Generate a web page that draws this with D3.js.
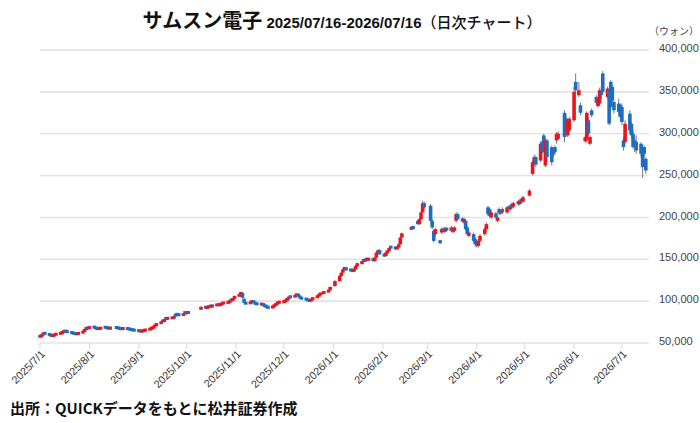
<!DOCTYPE html>
<html><head><meta charset="utf-8">
<script src="https://cdn.jsdelivr.net/npm/d3@7"></script>
<style>body{margin:0;background:#fff}svg{display:block}</style>
</head><body>
<svg id="c" width="700" height="423"></svg>
<script>
// values in thousand won, one entry per trading day (grouped by month)
const openP = [
 58.5,57.8,59.5,62.2,61,59.8,58.5,59,60,61,62,63,64.6,64,63,62,61.5,61,60.8,62,64,66.5,68.5,
 67.8,69.5,68.5,67.5,67,67.5,69,68.5,68,67.5,68.8,68.2,67.8,67.2,67,67.5,67,66.5,66,65.8,
 65,64.5,64,64.5,65,66,67,68,69.5,71,73.5,76.5,76,79.5,79,80.5,80,83.5,84.5,84,83.5,86.5,
 85.5,87,90,93.5,92,93,94.5,93.5,95,96.5,95,96.5,97.5,98,99,101.5,101,103,
 106,108.5,110,103,98,97,99,100.5,98,97.5,96,97,95,94.5,93,92,94,95,97.5,98.5,
 99,99.5,101,103.5,105.5,105,107,108.5,106,104,103,102,101,100.5,102,104.5,106,108.5,109.5,111,113,
 118,124,130,134,138,140,137.5,137,136,138,142,145,149,148,151,149,151,148,152,158,161,
 156,154,158,160.5,165,164,163,164,168,176,186,189,196,192,198,206,217,
 214,196,184,180,172,182,186,183,187,184,186,184,196,204,198,194,196,188,178,180,174,
 172,166,172,180,186,212,210,200,205,196,210,205,210,206,212,210,216,213,219,216,222,219,
 226,252,264,272,268,290,298,262,292,284,282,284,292,294,325,318,298,304,
 316,362,346,334,291,293,316,288,328,344,333,336,350,372,344,352,362,356,338,336,334,
 332,292,290,324,312,300,292,290,288,284,284,270
];
const highP = [
 59,60,62.5,62.7,61.5,60.3,59.5,60.5,61.5,62.5,63.5,65,65,64.5,63.5,62.5,62,61.5,62.5,64.5,66.5,68.5,69,
 69.5,70,69,68,68,68.5,69.5,69,68.5,68.5,69.3,68.7,68.3,67.7,68,68,67.5,67,66.5,66.3,
 65.5,65,65,65.5,66.5,67.5,68.5,70,71.5,73.5,75.5,77,78,80,80.5,81,81.5,84,85,84.5,85,87,
 87,87.5,93.5,94,93.5,94.5,95,95.5,96.5,97,97,97.5,98.5,99.5,100.5,102,103.5,106.5,
 108.5,111,110.5,103.5,98.5,99.5,100.5,101,98.5,98,97.5,97.5,95.5,95,93.5,94.5,95.5,97.5,98.5,99.5,
 100,101.5,103.5,104.5,106,107.5,108.5,109,106.5,104.5,103.5,102.5,101.5,102.5,104.5,106.5,108.5,109.5,111.5,113.5,117.5,
 125,131,135,139,141,141,139,138,139,143,146,148,150,151,152,152,152,153,159,162,162,
 157,159,161,164,166,165,165,169,177,182,189,190,197,199,207,220,219,
 216,198,186,188,173,188,188,189,188,190,188,190,206,206,200,200,198,190,184,182,176,
 174,174,180,188,194,214,212,208,207,202,212,210,212,214,214,216,218,219,221,222,224,226,
 234,268,275,274,291,292,300,294,294,286,284,286,302,303,328,322,318,320,
 356,372,362,337,298,327,318,298,330,346,342,355,356,375,356,354,364,358,340,342,336,
 336,296,316,328,314,304,296,298,290,286,286,272
];
const lowP = [
 57,57.3,59,60.5,59,58,58,58.5,59.5,60.5,61.5,62.5,63.5,62.5,61.5,61,60.5,60.3,60.3,61.5,63.5,66,67,
 67.3,68,67,66.5,66.5,67,68,67.5,67,67,67.7,67.3,66.7,66.5,66.5,66.5,66,65.5,65,64.5,
 64,63.5,63.5,64,64.5,65.5,66.5,67.5,69,70.5,73,75.5,75.5,78.5,78.5,79,79.5,82.5,83.5,83,83,85.5,
 85,85.5,89.5,91.5,91.5,92.5,93,93,94.5,94.5,94.5,96,97,97.5,98.5,100.5,100.5,102.5,
 105.5,108,103.5,97.5,96.5,96.5,98.5,97.5,96.5,95.5,95.5,94.5,93.5,92.5,91.5,91.5,93.5,94.5,97,98,
 98.5,99,100.5,103,104.5,104.5,106.5,105.5,103.5,102.5,101.5,100.5,100,100,101.5,104,105.5,108,109,110.5,112.5,
 117,123,129,133,137,136,136,135,135,137,141,144,147,147,148,148,147,147,151,157,155,
 153,153,157,159,163,162,162,163,167,175,185,186,191,191,197,205,210,
 194,186,170,178,168,180,182,181,183,182,181,182,194,196,194,192,184,178,176,170,165,
 164,164,170,178,184,202,200,198,198,194,203,203,204,204,208,208,210,211,214,214,217,217,
 225,250,262,260,266,276,280,260,266,262,272,274,288,292,290,300,296,302,
 314,348,344,322,289,290,298,286,320,335,331,334,342,348,342,310,330,338,324,322,318,
 310,280,288,300,294,282,278,276,272,247,272,252
];
const closeP = [
 57.5,59.5,62,61,59.5,58.5,59,60,61,62,63,64.5,64,63,62,61.5,61,60.8,62,64,66,68,67.5,
 69,68.5,67.5,67,67.5,68,68.5,68,67.5,68,68.2,67.8,67.2,67,67.5,67,66.5,66,65.5,65,
 64.5,64,64.5,65,66,67,68,69.5,71,73,75,76,77.5,79,80,79.5,81,83,84,83.5,84.5,86,
 86.5,86,93,92,93,94,93.5,95,96,95,96.5,97,98,99,100,101,103,106,
 108,110,104,98,97,99,100,98,97,96,97,95,94,93,92,94,95,97,98,99,
 99.5,101,103,104,105,107,108,106,104,103,102,101,100.5,102,104,106,108,109,111,113,117,
 124,130,134,138,140,137,137,136,138,142,145,147,148,150,149,151,148,152,158,160,156,
 154,158,160,163,164,163,164,168,176,181,188,187,192,198,206,217,212,
 196,188,172,186,170,186,184,187,185,188,183,188,204,198,196,198,186,180,182,172,168,
 166,172,178,186,192,204,202,206,200,200,205,208,206,212,210,214,212,217,216,220,219,224,
 232,266,272,263,288,278,282,292,272,266,276,278,300,300,296,304,316,318,
 350,352,352,325,296,325,300,296,322,337,340,352,346,350,354,312,332,340,328,326,320,
 314,284,312,304,298,284,284,280,276,260,276,256
];
const holidays = ["2025-08-15","2025-10-03","2025-10-06","2025-10-07","2025-10-08","2025-10-09",
 "2025-12-25","2025-12-31","2026-01-01","2026-02-16","2026-02-17","2026-02-18","2026-03-02",
 "2026-05-01","2026-05-05","2026-05-25","2026-06-03"];
const yTickValues = [50,100,150,200,250,300,350,400];
const xTickLabels = ["2025/7/1","2025/8/1","2025/9/1","2025/10/1","2025/11/1","2025/12/1",
 "2026/1/1","2026/2/1","2026/3/1","2026/4/1","2026/5/1","2026/6/1","2026/7/1"];
const titleMain = "サムスン電子";
const titleDates = " 2025/07/16-2026/07/16";
const titleSuffix = "（日次チャート）";
const unitLabel = "（ウォン）";
const sourceText = "出所：QUICKデータをもとに松井証券作成";

// trading dates
const dates = [];
for (let t = Date.UTC(2025,6,1); t <= Date.UTC(2026,6,16); t += 86400000) {
  const d = new Date(t), wd = d.getUTCDay(), s = d.toISOString().slice(0,10);
  if (wd !== 0 && wd !== 6 && !holidays.includes(s)) dates.push(d);
}
const n = Math.min(dates.length, openP.length, closeP.length, highP.length, lowP.length);
const data = d3.range(n).map(i => ({d: dates[i], o: openP[i], h: highP[i], l: lowP[i], c: closeP[i]}));

const svg = d3.select("#c");
const x = d3.scaleUtc().domain([new Date(Date.UTC(2025,6,1)), new Date(Date.UTC(2026,6,18))]).range([40, 649]);
const y = d3.scaleLinear().domain([50, 400]).range([343, 50]);
const fmt = d3.format(",");
const parseT = d3.utcParse("%Y/%m/%d");

// grid
svg.append("g").selectAll("line").data(yTickValues).join("line")
  .attr("x1", 40).attr("x2", 649).attr("y1", d => y(d)).attr("y2", d => y(d))
  .attr("stroke", "#e3e3e3").attr("stroke-width", 1.6);
svg.append("g").selectAll("text").data(yTickValues).join("text")
  .attr("x", 659).attr("y", d => y(d)).attr("dy", "0.2em")
  .attr("font-family", "'Liberation Sans', Arial, sans-serif").attr("font-size", 11)
  .attr("fill", "#444").text(d => fmt(d * 1000));

// x ticks
const xt = svg.append("g");
xTickLabels.forEach(lab => {
  const px = x(parseT(lab));
  xt.append("line").attr("x1", px).attr("x2", px).attr("y1", 343).attr("y2", 349)
    .attr("stroke", "#d8d8d8").attr("stroke-width", 1);
  xt.append("text").attr("transform", `translate(${px + 3},${352}) rotate(-45)`)
    .attr("text-anchor", "end").attr("dy", "0.35em")
    .attr("font-family", "'Liberation Sans', Arial, sans-serif").attr("font-size", 10.8)
    .attr("fill", "#333").text(lab);
});

// candles
const red = "#e8161c", blue = "#1f6dc0";
const minH = 3;
const cg = svg.append("g");
cg.selectAll("line").data(data).join("line")
  .attr("x1", d => x(d.d)).attr("x2", d => x(d.d))
  .attr("y1", d => y(d.h)).attr("y2", d => y(d.l))
  .attr("stroke", "#7a7a7a").attr("stroke-width", 1);
cg.selectAll("rect").data(data).join("rect")
  .attr("x", d => x(d.d) - 1.8).attr("width", 3.6)
  .attr("y", d => { const top = y(Math.max(d.o, d.c)), h = y(Math.min(d.o, d.c)) - top; return h < minH ? top - (minH - h) / 2 : top; })
  .attr("height", d => Math.max(minH, y(Math.min(d.o, d.c)) - y(Math.max(d.o, d.c))))
  .attr("fill", d => d.c >= d.o ? red : blue);

// title
const title = svg.append("text").attr("x", 342).attr("y", 28).attr("text-anchor", "middle")
  .attr("fill", "#111");
title.append("tspan").attr("font-family", "'Noto Sans CJK JP', sans-serif").attr("font-weight", 700)
  .attr("font-size", 20).text(titleMain);
title.append("tspan").attr("font-family", "'Liberation Sans', Arial, sans-serif").attr("font-weight", 700)
  .attr("font-size", 15).text(titleDates);
title.append("tspan").attr("font-family", "'Noto Sans CJK JP', sans-serif").attr("font-weight", 500)
  .attr("font-size", 15).text(titleSuffix);

svg.append("text").attr("x", 699).attr("y", 35).attr("text-anchor", "end")
  .attr("font-family", "'Noto Sans CJK JP', sans-serif").attr("font-size", 10)
  .attr("fill", "#444").text(unitLabel);

svg.append("text").attr("x", 10).attr("y", 414)
  .attr("font-family", "'Noto Sans CJK JP', sans-serif").attr("font-weight", 700)
  .attr("font-size", 15).attr("fill", "#111").text(sourceText);
</script>
</body></html>
